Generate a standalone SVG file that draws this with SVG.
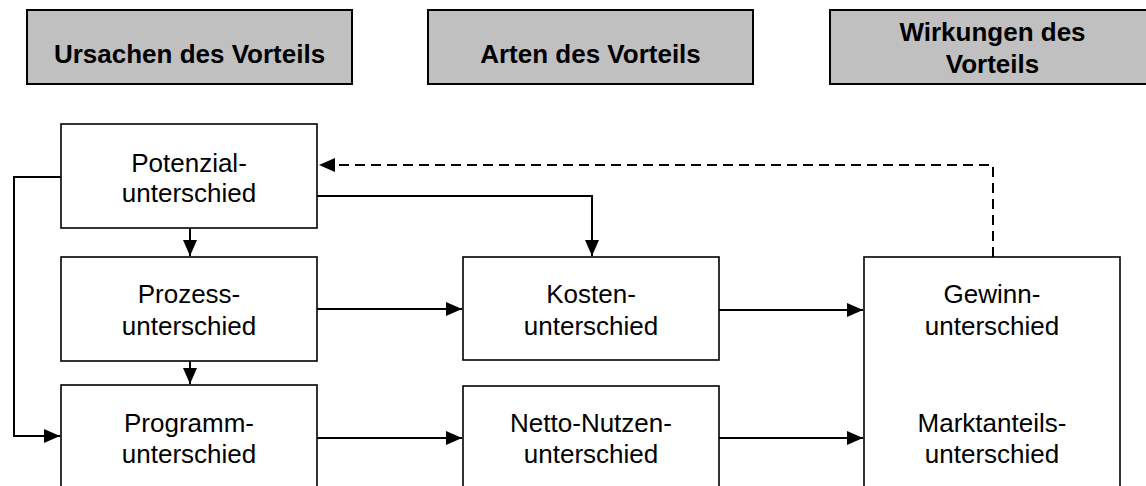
<svg xmlns="http://www.w3.org/2000/svg" width="1146" height="486" viewBox="0 0 1146 486">
<style>
.hdr{fill:#c0c0c0;stroke:#000;stroke-width:2}
.node{fill:#fff;stroke:#000;stroke-width:1.6}
.ht{font-family:"Liberation Sans",Arial,sans-serif;font-size:26px;font-weight:bold;text-anchor:middle;fill:#000}
.nt{font-family:"Liberation Sans",Arial,sans-serif;font-size:26px;text-anchor:middle;fill:#000}
.c{fill:none;stroke:#000;stroke-width:2}
.d{stroke-dasharray:10 6}
</style>
<defs>
<marker id="ah" markerUnits="userSpaceOnUse" markerWidth="18" markerHeight="16" refX="16" refY="7" orient="auto">
<path d="M0,0 L16,7 L0,14 Z" fill="#000"/>
</marker>
</defs>
<rect width="1146" height="486" fill="#fff"/>
<g id="hdr-ursachen"><rect class="hdr" x="27" y="10" width="325" height="74"/><text class="ht" x="189.5" y="63">Ursachen des Vorteils</text></g>
<g id="hdr-arten"><rect class="hdr" x="428" y="10" width="325" height="74"/><text class="ht" x="590.5" y="63">Arten des Vorteils</text></g>
<g id="hdr-wirkungen"><rect class="hdr" x="830" y="10" width="325" height="74"/><text class="ht" x="992.5" y="41">Wirkungen des</text><text class="ht" x="992.5" y="73">Vorteils</text></g>
<g id="potenzial"><rect class="node" x="61" y="124" width="256" height="104"/><text class="nt" x="189" y="172">Potenzial-</text><text class="nt" x="189" y="202">unterschied</text></g>
<g id="prozess"><rect class="node" x="61" y="257" width="256" height="104"/><text class="nt" x="189" y="303">Prozess-</text><text class="nt" x="189" y="335">unterschied</text></g>
<g id="programm"><rect class="node" x="61" y="385" width="256" height="110"/><text class="nt" x="189" y="432">Programm-</text><text class="nt" x="189" y="463">unterschied</text></g>
<g id="kosten"><rect class="node" x="463" y="257" width="256" height="103"/><text class="nt" x="591" y="303">Kosten-</text><text class="nt" x="591" y="335">unterschied</text></g>
<g id="netto"><rect class="node" x="463" y="386" width="256" height="110"/><text class="nt" x="591" y="432">Netto-Nutzen-</text><text class="nt" x="591" y="463">unterschied</text></g>
<g id="wirkung"><rect class="node" x="864" y="257" width="256" height="240"/><text class="nt" x="992" y="303">Gewinn-</text><text class="nt" x="992" y="335">unterschied</text><text class="nt" x="992" y="432">Marktanteils-</text><text class="nt" x="992" y="463">unterschied</text></g>
<g id="connectors">
<path class="c" d="M190,228 V256" marker-end="url(#ah)"/>
<path class="c" d="M190,361 V384" marker-end="url(#ah)"/>
<path class="c" d="M61,177 H14 V436 H60" marker-end="url(#ah)"/>
<path class="c" d="M317,196 H592 V256" marker-end="url(#ah)"/>
<path class="c" d="M317,309 H462" marker-end="url(#ah)"/>
<path class="c" d="M317,438 H462" marker-end="url(#ah)"/>
<path class="c" d="M719,310 H863" marker-end="url(#ah)"/>
<path class="c" d="M719,438 H863" marker-end="url(#ah)"/>
<path class="c d" d="M993,257 V165 H319" marker-end="url(#ah)"/>
</g>
</svg>
